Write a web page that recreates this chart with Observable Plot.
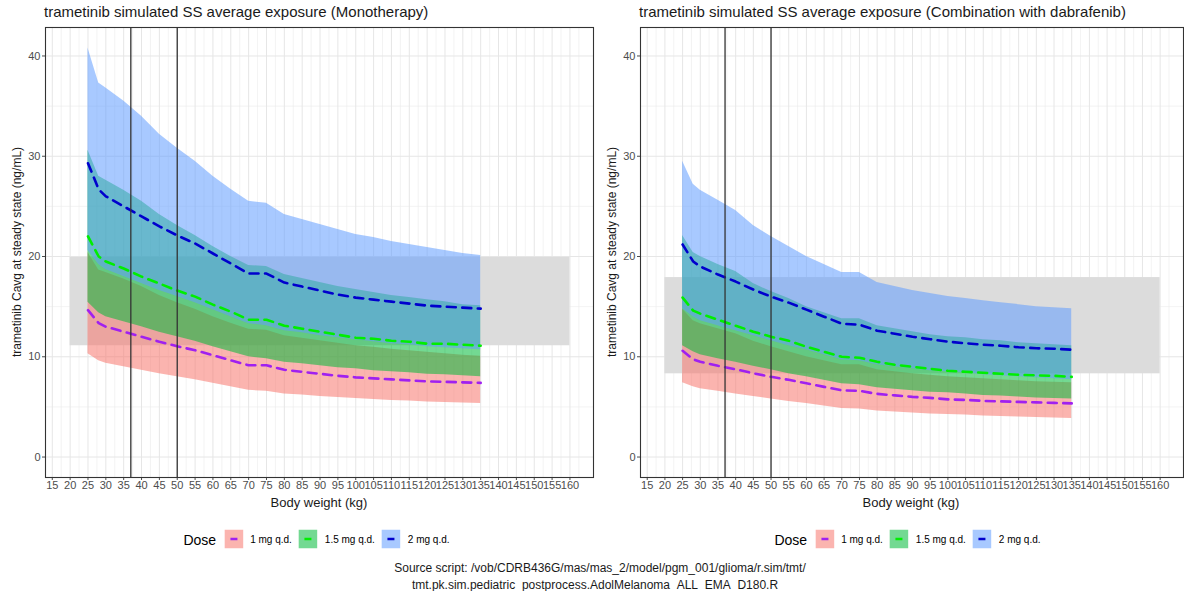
<!DOCTYPE html>
<html><head><meta charset="utf-8">
<script src="https://cdn.jsdelivr.net/npm/d3@7"></script>
<script src="https://cdn.jsdelivr.net/npm/@observablehq/plot@0.6"></script>
<style>
body{margin:0;background:#fff;font-family:"Liberation Sans",Arial,sans-serif;}
#root{position:relative;width:1184px;height:591px;overflow:hidden;background:#fff;}
.abs{position:absolute;white-space:nowrap;color:#000;}
.panel{position:absolute;top:0;}
.leg{display:flex;align-items:center;}
.leg .t{font-size:14px;margin-right:8px;}
.leg .l{font-size:10px;margin:0 7px 0 7px;}
</style></head><body><div id="root"></div>
<script>
// ---------------- data ----------------
const weights = [25,28,30,35,40,45,50,55,60,65,70,75,80,85,90,95,100,105,110,115,120,125,130,135];
const doses = ["1 mg q.d.","1.5 mg q.d.","2 mg q.d."];
const xTicks = [15,20,25,30,35,40,45,50,55,60,65,70,75,80,85,90,95,100,105,110,115,120,125,130,135,140,145,150,155,160];
const yTicks = [0,10,20,30,40];
const refLines = [37,50];
const refX = [20,160];
const monoRef = [11.1,19.9];
const comboRef = [8.3,17.9];

// Monotherapy
const monoMed1  = [14.65,13.35,13.0,12.5,12.0,11.5,11.05,10.65,10.15,9.65,9.15,9.15,8.7,8.5,8.3,8.1,7.95,7.85,7.75,7.65,7.55,7.5,7.45,7.4];
const monoMed15 = [22.0,20.0,19.5,18.8,18.0,17.3,16.6,16.0,15.2,14.5,13.7,13.7,13.1,12.8,12.5,12.2,11.9,11.8,11.6,11.5,11.3,11.3,11.2,11.1];
const monoMed2  = [29.3,26.7,26.0,25.0,24.0,23.0,22.1,21.3,20.3,19.3,18.3,18.3,17.4,17.0,16.6,16.2,15.9,15.7,15.5,15.3,15.1,15.0,14.9,14.8];
const monoLo1   = [10.3,9.6,9.35,9.0,8.65,8.3,8.0,7.7,7.35,7.0,6.65,6.55,6.3,6.2,6.05,5.95,5.85,5.75,5.65,5.6,5.5,5.45,5.4,5.35];
const monoHi1   = [20.4,18.65,18.4,17.75,17.0,16.1,15.4,14.75,14.0,13.35,12.75,12.65,12.1,11.85,11.6,11.35,11.1,10.95,10.75,10.6,10.45,10.3,10.15,10.05];
const monoLo15  = [15.45,14.4,14.0,13.5,13.0,12.45,12.0,11.55,11.0,10.5,10.0,9.8,9.45,9.3,9.1,8.9,8.8,8.6,8.5,8.4,8.25,8.2,8.1,8.0];
const monoHi15  = [30.6,28.0,27.6,26.6,25.5,24.2,23.1,22.1,21.0,20.0,19.1,19.0,18.2,17.8,17.4,17.0,16.7,16.4,16.1,15.9,15.7,15.5,15.2,15.1];
const monoLo2   = [20.6,19.2,18.7,18.0,17.3,16.6,16.0,15.4,14.7,14.0,13.3,13.1,12.6,12.4,12.1,11.9,11.7,11.5,11.3,11.2,11.0,10.9,10.8,10.7];
const monoHi2   = [40.8,37.3,36.8,35.5,34.0,32.2,30.8,29.5,28.0,26.7,25.5,25.3,24.2,23.7,23.2,22.7,22.2,21.9,21.5,21.2,20.9,20.6,20.3,20.1];

// Combination with dabrafenib
const comboMed1  = [10.6,9.75,9.5,9.1,8.75,8.35,8.0,7.7,7.35,7.0,6.65,6.6,6.3,6.15,6.0,5.9,5.75,5.7,5.6,5.55,5.5,5.45,5.4,5.35];
const comboMed15 = [15.9,14.6,14.3,13.7,13.1,12.5,12.0,11.6,11.0,10.5,10.0,9.9,9.5,9.2,9.0,8.8,8.6,8.5,8.4,8.3,8.2,8.15,8.1,8.0];
const comboMed2  = [21.2,19.5,19.0,18.2,17.5,16.7,16.0,15.4,14.7,14.0,13.3,13.2,12.6,12.3,12.0,11.75,11.5,11.35,11.2,11.1,10.95,10.85,10.8,10.7];
const comboLo1   = [7.4,7.0,6.8,6.55,6.3,6.05,5.8,5.55,5.35,5.1,4.85,4.8,4.6,4.5,4.4,4.3,4.25,4.2,4.1,4.05,4.0,3.95,3.9,3.85];
const comboHi1   = [14.75,13.6,13.3,12.8,12.3,11.55,11.0,10.5,10.0,9.6,9.2,9.2,8.7,8.5,8.3,8.15,8.0,7.9,7.8,7.7,7.6,7.5,7.45,7.4];
const comboLo15  = [11.1,10.5,10.2,9.8,9.45,9.05,8.7,8.3,8.0,7.65,7.3,7.2,6.9,6.75,6.6,6.45,6.4,6.3,6.15,6.1,6.0,5.9,5.85,5.8];
const comboHi15  = [22.1,20.4,20.0,19.2,18.5,17.3,16.5,15.8,15.0,14.4,13.8,13.8,13.1,12.8,12.5,12.2,12.0,11.9,11.7,11.6,11.4,11.3,11.2,11.1];
const comboLo2   = [14.8,14.0,13.6,13.1,12.6,12.1,11.6,11.1,10.7,10.2,9.7,9.6,9.2,9.0,8.8,8.6,8.5,8.4,8.2,8.1,8.0,7.9,7.8,7.7];
const comboHi2   = [29.5,27.2,26.6,25.6,24.6,23.1,22.0,21.0,20.0,19.2,18.4,18.4,17.4,17.0,16.6,16.3,16.0,15.8,15.6,15.4,15.2,15.0,14.9,14.8];

// ---------------- styles ----------------
const bandColors = ["#F8766D","#00BA38","#619CFF"];
const lineColors = ["#A020F0","#00EE00","#0000CD"];
const bandOpacity = 0.55;

function series(lo, hi, med){
  return weights.map((w,i)=>({w, lo: lo[i], hi: hi[i], med: med[i]}));
}

function panel(sets, ref, opts){
  const marks = [
    Plot.ruleX(xTicks.map(t=>t+2.5), {stroke:"#ebebeb", strokeWidth:0.6}),
    Plot.ruleY(yTicks.map(t=>t+5).filter(t=>t<42), {stroke:"#ebebeb", strokeWidth:0.6}),
    Plot.ruleX(xTicks, {stroke:"#e6e6e6", strokeWidth:1}),
    Plot.ruleY(yTicks, {stroke:"#e6e6e6", strokeWidth:1}),
    Plot.rect([ref], {x1: ()=>refX[0], x2: ()=>refX[1], y1: d=>d[0], y2: d=>d[1], fill:"#dcdcdc"})
  ];
  sets.forEach((s,i)=>{
    marks.push(Plot.areaY(s, {x:"w", y1:"lo", y2:"hi", fill: bandColors[i], fillOpacity: bandOpacity}));
  });
  sets.forEach((s,i)=>{
    marks.push(Plot.lineY(s, {x:"w", y:"med", stroke: lineColors[i], strokeWidth: 2.6, strokeDasharray: "9,6.5"}));
  });
  marks.push(Plot.ruleX(refLines, {stroke:"#333", strokeWidth:1.3}));
  marks.push(Plot.frame({stroke:"#333", strokeWidth:1.1}));
  return Plot.plot({
    width: opts.width, height: 497,
    marginLeft: 45, marginRight: opts.mr, marginTop: 27, marginBottom: 20,
    style: {fontSize: "11px", fontFamily: "'Liberation Sans', Arial, sans-serif", color: "#4d4d4d", background: "transparent", overflow: "visible"},
    x: {domain: [13.1, 166.6], ticks: xTicks, tickFormat: d=>String(d), tickSize: 3, tickPadding: 1, label: null},
    y: {domain: [-2.04, 42.84], ticks: yTicks, tickFormat: d=>String(d), tickSize: 3, tickPadding: 2, label: null},
    marks
  });
}

const root = document.getElementById("root");
function addAbs(html, css){
  const d = document.createElement("div");
  d.className = "abs";
  d.innerHTML = html;
  Object.assign(d.style, css);
  root.appendChild(d);
  return d;
}

const monoSets = [series(monoLo1,monoHi1,monoMed1), series(monoLo15,monoHi15,monoMed15), series(monoLo2,monoHi2,monoMed2)];
const comboSets = [series(comboLo1,comboHi1,comboMed1), series(comboLo15,comboHi15,comboMed15), series(comboLo2,comboHi2,comboMed2)];

const p1 = panel(monoSets, monoRef, {width: 595, mr: 2});
const w1 = document.createElement("div"); w1.className="panel"; w1.style.left="0px"; w1.appendChild(p1); root.appendChild(w1);
const p2 = panel(comboSets, comboRef, {width: 589, mr: 1});
const w2 = document.createElement("div"); w2.className="panel"; w2.style.left="595px"; w2.appendChild(p2); root.appendChild(w2);

const titles = ["trametinib simulated SS average exposure (Monotherapy)", "trametinib simulated SS average exposure (Combination with dabrafenib)"];
const offs = [0, 595];
titles.forEach((t,i)=>{
  addAbs(t, {left: (44+offs[i])+"px", top: "4px", fontSize: "15px", lineHeight: "15px", color:"#1a1a1a"});
  addAbs("trametinib Cavg at steady state (ng/mL)", {left: (17+offs[i])+"px", top: "252px", fontSize: "12px", transform: "translate(-50%,-50%) rotate(-90deg)", color:"#1a1a1a"});
  addAbs("Body weight (kg)", {left: (i===0?319:911)+"px", top: "502px", fontSize: "13px", transform: "translate(-50%,-50%)", color:"#1a1a1a"});
  // legend
  let html = '<div class="leg"><span class="t">Dose</span>';
  doses.forEach((d,k)=>{
    html += `<svg width="19" height="19"><rect width="19" height="19" fill="${bandColors[k]}" fill-opacity="${bandOpacity}"/><line x1="6" x2="13" y1="9.5" y2="9.5" stroke="${lineColors[k]}" stroke-width="2.6"/></svg><span class="l">${d}</span>`;
  });
  html += '</div>';
  addAbs(html, {left: (i===0?320:911)+"px", top: "539px", transform: "translate(-50%,-50%)"});
});

addAbs("Source script: /vob/CDRB436G/mas/mas_2/model/pgm_001/glioma/r.sim/tmt/", {left:"600px", top:"568px", fontSize:"12px", transform:"translate(-50%,-50%)", color:"#1a1a1a"});
addAbs("tmt.pk.sim.pediatric_postprocess.AdolMelanoma_ALL_EMA_D180.R", {left:"595px", top:"585px", fontSize:"12px", transform:"translate(-50%,-50%)", color:"#1a1a1a"});
</script></body></html>
